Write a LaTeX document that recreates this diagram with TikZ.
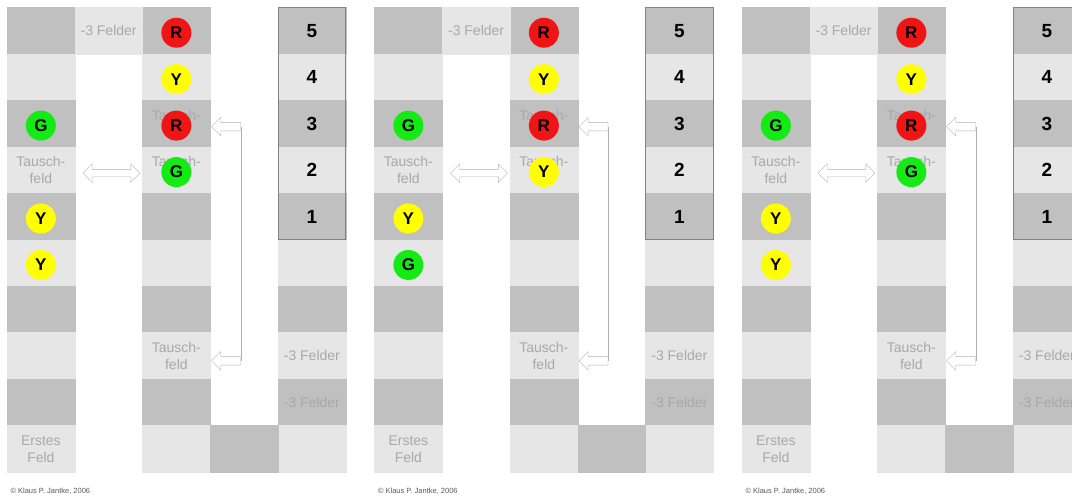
\documentclass[tikz,border=0pt]{standalone}
\usepackage{fontspec}
\setmainfont{Liberation Sans}
\usetikzlibrary{positioning,shapes.arrows}
\definecolor{celldark}{RGB}{192,192,192}
\definecolor{celllight}{RGB}{230,230,230}
\definecolor{labelgray}{RGB}{168,168,168}
\definecolor{arrowgray}{RGB}{178,178,178}
\definecolor{boxgray}{RGB}{130,130,130}
\definecolor{tokred}{RGB}{240,20,20}
\definecolor{tokyellow}{RGB}{255,255,0}
\definecolor{tokgreen}{RGB}{20,235,20}
\tikzset{
  cell/.style={rectangle, minimum width=67.75pt, minimum height=46.45pt, inner sep=0pt, outer sep=0pt},
  cell0/.style={cell, fill=celllight, draw=celllight},
  cell1/.style={cell, fill=celldark, draw=celldark},
  hint/.style={text=labelgray, align=center, font=\fontsize{14}{17}\selectfont},
  num/.style={font=\bfseries\fontsize{19}{19}\selectfont},
  token/.style={circle, minimum size=30pt, inner sep=0pt, yshift=-2pt, font=\bfseries\fontsize{17}{17}\selectfont},
  tokR/.style={token, fill=tokred},
  tokY/.style={token, fill=tokyellow},
  tokG/.style={token, fill=tokgreen},
  swaparrow/.style={double arrow, draw=arrowgray, fill=white, minimum height=57pt, inner xsep=0pt, inner ysep=3.5pt, double arrow head extend=5.5pt},
  backarrow/.style={single arrow, shape border rotate=180, draw=arrowgray, fill=white, minimum height=29pt, inner xsep=0pt, inner ysep=4pt, single arrow head extend=5pt},
  arrowline/.style={draw=arrowgray},
  boxline/.style={draw=boxgray, line width=0.8pt},
}
\begin{document}
\begin{tikzpicture}[x=1pt, y=-1pt]
\clip (0,0) rectangle (1072,499);
\foreach \i/\px/\la/\mb in {1/0/Y/G, 2/367.5/G/Y, 3/735/Y/G}{
\begin{scope}[xshift=\px pt, name prefix=p\i-]
  % board: three columns, ten rows
  \foreach \row [evaluate=\row as \tone using {int(mod(\row,2))}, evaluate=\row as \yy using {7.5+(\row-0.5)*46.45}] in {1,...,10}{
    \node[cell\tone] (l\row) at (40.875,\yy) {};
    \node[cell\tone] (m\row) at (176.375,\yy) {};
    \node[cell\tone] (r\row) at (311.875,\yy) {};
  }
  \node[cell0] (gap) at (108.625,30.725) {};
  \node[cell1] (turn) at (244.125,448.775) {};
  % labels
  \node[hint] (gaptext) at (gap) {-3 Felder};
  \node[hint] (swapl) at (l4) {Tausch-\\feld};
  \node[hint] (start) at (l10) {Erstes\\Feld};
  \node[hint] (swapm3) at (m3) {Tausch-\\feld};
  \node[hint] (swapm4) at (m4) {Tausch-\\feld};
  \node[hint] (swapm8) at (m8) {Tausch-\\feld};
  \node[hint] (backa) at (r8) {-3 Felder};
  \node[hint] (backb) at (r9) {-3 Felder};
  \foreach \row/\n in {1/5,2/4,3/3,4/2,5/1}
    \node[num] (n\n) at (r\row) {\n};
  \draw[boxline] (r1.north west) rectangle (r5.south east);
  % tokens
  \node[tokG] (tl3) at (l3) {G};
  \node[tokY] (tl5) at (l5) {Y};
  \node[tok\la] (tl6) at (l6) {\la};
  \node[tokR] (tm1) at (m1) {R};
  \node[tokY] (tm2) at (m2) {Y};
  \node[tokR] (tm3) at (m3) {R};
  \node[tok\mb] (tm4) at (m4) {\mb};
  % arrows
  \node[swaparrow, right=8pt of l4, yshift=-3pt] (swap) {};
  \node[backarrow, right=1pt of m3, yshift=-3pt] (upper) {};
  \node[backarrow, right=1pt of m8, yshift=-5pt] (lower) {};
  \draw[arrowline] (upper.tail) -- (lower.tail);
  \node[anchor=west, font=\fontsize{7.5}{9}\selectfont, text=black!65] (copy) at (7,491) {\textcopyright{} Klaus P. Jantke, 2006};
\end{scope}
}
\end{tikzpicture}
\end{document}
